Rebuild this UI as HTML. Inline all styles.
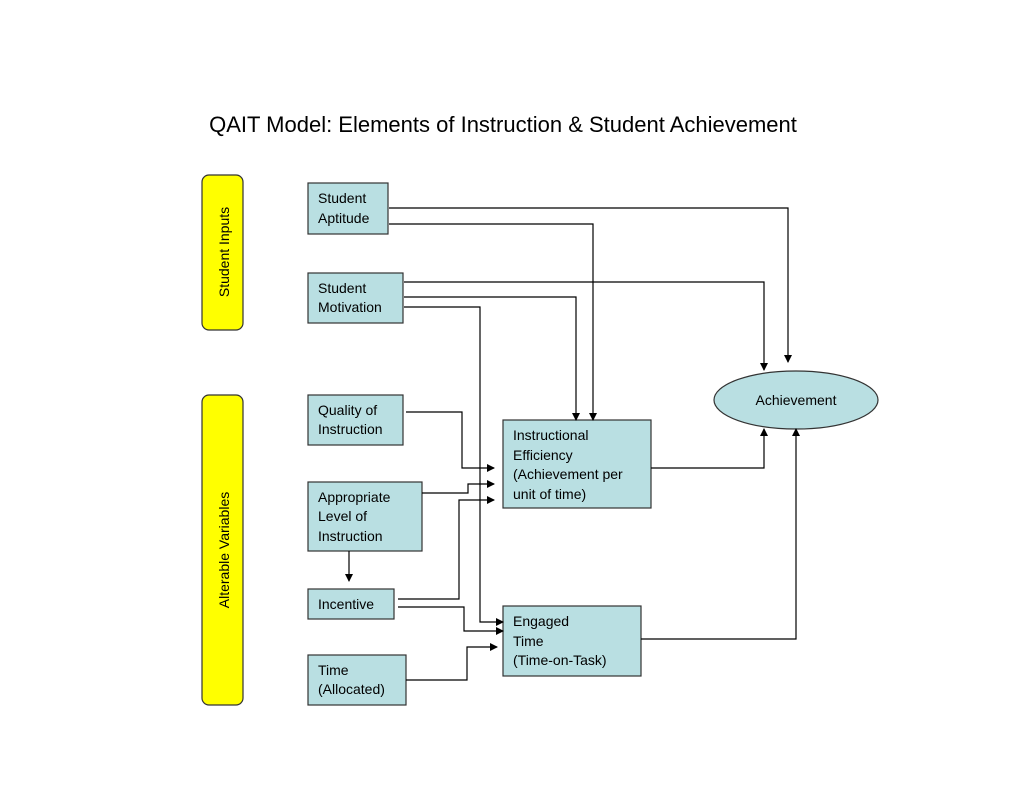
<!DOCTYPE html>
<html><head><style>
body{margin:0;background:#fff;}
svg text{font-family:"Liberation Sans",Arial,sans-serif;fill:#000;}
</style></head><body>
<svg width="1023" height="791" xmlns="http://www.w3.org/2000/svg">
<defs><marker id="a" markerWidth="8" markerHeight="8" refX="7" refY="4" orient="auto" markerUnits="userSpaceOnUse"><path d="M0,0 L8,4 L0,8 z" fill="#000"/></marker></defs>
<text x="503" y="132" font-size="22" text-anchor="middle">QAIT Model: Elements of Instruction &amp; Student Achievement</text>
<rect x="202" y="175" width="41" height="155" rx="7" fill="#ffff00" stroke="#333" stroke-width="1.2"/>
<text transform="translate(229,252) rotate(-90)" font-size="14" text-anchor="middle">Student Inputs</text>
<rect x="202" y="395" width="41" height="310" rx="7" fill="#ffff00" stroke="#333" stroke-width="1.2"/>
<text transform="translate(229,550) rotate(-90)" font-size="14" text-anchor="middle">Alterable Variables</text>
<g fill="#b9dfe2" stroke="#333" stroke-width="1.2">
<rect x="308" y="183" width="80" height="51"/>
<rect x="308" y="273" width="95" height="50"/>
<rect x="308" y="395" width="95" height="50"/>
<rect x="308" y="482" width="114" height="69"/>
<rect x="308" y="589" width="86" height="30"/>
<rect x="308" y="655" width="98" height="50"/>
<rect x="503" y="420" width="148" height="88"/>
<rect x="503" y="606" width="138" height="70"/>
<ellipse cx="796" cy="400" rx="82" ry="29"/>
</g>
<g font-size="14">
<text x="318" y="203">Student</text><text x="318" y="223">Aptitude</text>
<text x="318" y="293">Student</text><text x="318" y="312">Motivation</text>
<text x="318" y="415">Quality of</text><text x="318" y="434">Instruction</text>
<text x="318" y="502">Appropriate</text><text x="318" y="521">Level of</text><text x="318" y="541">Instruction</text>
<text x="318" y="609">Incentive</text>
<text x="318" y="675">Time</text><text x="318" y="694">(Allocated)</text>
<text x="513" y="440">Instructional</text><text x="513" y="460">Efficiency</text><text x="513" y="479">(Achievement per</text><text x="513" y="499">unit of time)</text>
<text x="513" y="626">Engaged</text><text x="513" y="646">Time</text><text x="513" y="665">(Time-on-Task)</text>
<text x="796" y="405" text-anchor="middle">Achievement</text>
</g>
<g fill="none" stroke="#000" stroke-width="1.2" marker-end="url(#a)">
<polyline points="389,208 788,208 788,362"/>
<polyline points="389,224 593,224 593,420"/>
<polyline points="404,282 764,282 764,370"/>
<polyline points="404,297 576,297 576,420"/>
<polyline points="404,307 480,307 480,622 503,622"/>
<polyline points="406,412 462,412 462,468 494,468"/>
<polyline points="422,493 468,493 468,484 494,484"/>
<polyline points="349,551 349,581"/>
<polyline points="398,599 459,599 459,500 494,500"/>
<polyline points="398,607 464,607 464,631 503,631"/>
<polyline points="406,680 467,680 467,647 497,647"/>
<polyline points="651,468 764,468 764,429"/>
<polyline points="641,639 796,639 796,429"/>
</g>
</svg>
</body></html>
